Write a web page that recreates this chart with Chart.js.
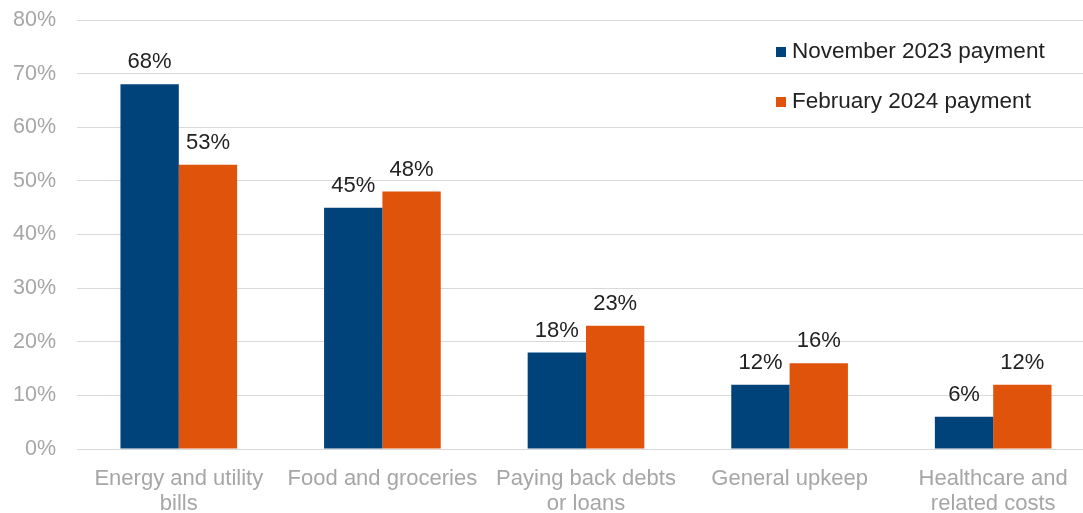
<!DOCTYPE html>
<html>
<head>
<meta charset="utf-8">
<script src="https://cdn.jsdelivr.net/npm/chart.js@4/dist/chart.umd.min.js"></script>
<style>
  html, body { margin: 0; padding: 0; background: #fff; overflow: hidden; }
  #wrap { width: 1083px; height: 513px; overflow: hidden; }
  #spendChart { display: block; }
</style>
</head>
<body>
<!-- canvas is a bit wider than the frame, so the plot runs off the right edge -->
<div id="wrap"><canvas id="spendChart" width="1095" height="513"></canvas></div>
<script>
// Share of recipients spending the payment on each item
const categories = [
  ['Energy and utility', 'bills'],
  'Food and groceries',
  ['Paying back debts', 'or loans'],
  'General upkeep',
  ['Healthcare and', 'related costs']
];
const seriesNames = ['November 2023 payment', 'February 2024 payment'];
const nov2023 = [68, 45, 18, 12, 6];
const feb2024 = [53, 48, 23, 16, 12];
const yTicks = [0, 10, 20, 30, 40, 50, 60, 70, 80];

const FONT = '"Liberation Sans", Arial, sans-serif';

// value labels above each bar
const barLabels = {
  id: 'barLabels',
  afterDatasetsDraw(chart) {
    const ctx = chart.ctx;
    ctx.save();
    ctx.font = '22px ' + FONT;
    ctx.fillStyle = '#222';
    ctx.textAlign = 'center';
    ctx.textBaseline = 'middle';
    chart.data.datasets.forEach((ds, i) => {
      chart.getDatasetMeta(i).data.forEach((bar, j) => {
        ctx.fillText(ds.data[j] + '%', bar.x, bar.y - 22);
      });
    });
    ctx.restore();
  }
};

// legend box stacked in the top-right corner of the plot
const cornerLegend = {
  id: 'cornerLegend',
  afterDraw(chart) {
    const ctx = chart.ctx;
    ctx.save();
    ctx.font = '22.5px ' + FONT;
    ctx.textBaseline = 'middle';
    chart.data.datasets.forEach((ds, i) => {
      const y = 52 + i * 50;
      ctx.fillStyle = ds.backgroundColor;
      ctx.fillRect(776, y - 5, 10, 10);
      ctx.fillStyle = '#222';
      ctx.fillText(ds.label, 792, y);
    });
    ctx.restore();
  }
};

new Chart(document.getElementById('spendChart'), {
  type: 'bar',
  data: {
    labels: categories,
    datasets: [
      { label: seriesNames[0], data: nov2023, backgroundColor: '#00427a' },
      { label: seriesNames[1], data: feb2024, backgroundColor: '#e0530a' }
    ]
  },
  options: {
    responsive: false,
    animation: false,
    layout: { padding: { top: 20, right: 0, left: 0, bottom: 0 } },
    datasets: { bar: { categoryPercentage: 0.573, barPercentage: 1 } },
    plugins: { legend: { display: false }, tooltip: { enabled: false } },
    scales: {
      x: {
        grid: { display: false },
        border: { display: false },
        ticks: {
          color: '#a6a6a6',
          font: { family: FONT, size: 22, lineHeight: 1.15 },
          padding: 9,
          maxRotation: 0,
          autoSkip: false
        },
        afterFit(scale) {
          scale.height = 64;
          scale.paddingLeft = 0;
          scale.paddingRight = 0;
        }
      },
      y: {
        min: 0,
        max: 80,
        afterBuildTicks(scale) { scale.ticks = yTicks.map(v => ({ value: v })); },
        grid: { color: '#d9d9d9', lineWidth: 1, drawTicks: false },
        border: { display: false },
        ticks: {
          color: '#a6a6a6',
          font: { family: FONT, size: 21.5 },
          padding: 21,
          callback: v => v + '%'
        },
        afterFit(scale) {
          scale.width = 77;
          scale.paddingTop = 0;
          scale.paddingBottom = 0;
        }
      }
    }
  },
  plugins: [barLabels, cornerLegend]
});
</script>
</body>
</html>
